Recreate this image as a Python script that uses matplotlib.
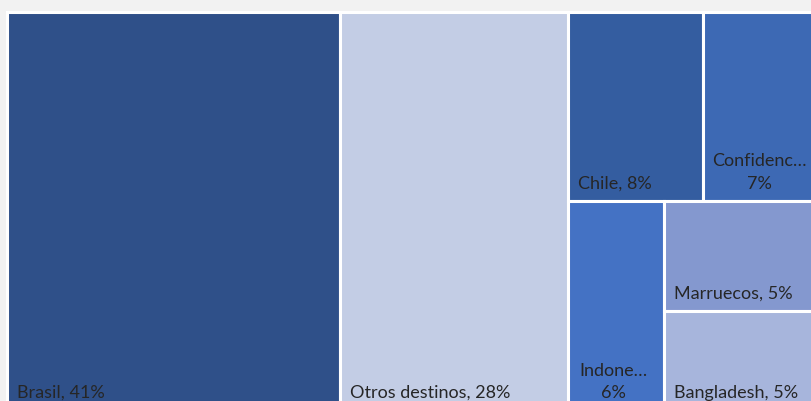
import matplotlib.pyplot as plt
from matplotlib.patches import Rectangle

# Treemap data (shares of exports, %)
names = ["Brasil", "Otros destinos", "Chile", "Confidencial", "Indonesia", "Marruecos", "Bangladesh"]
values = [41.0, 28.0, 7.9, 6.8, 6.2, 5.3, 4.8]
shown = ["Brasil", "Otros destinos", "Chile", "Confidenc…", "Indone…", "Marruecos", "Bangladesh"]
colors = ["#2F5089", "#C3CDE5", "#345DA0", "#3D69B4", "#4472C4", "#8498CF", "#A7B5DC"]

plt.rcParams['font.family'] = ['Lato', 'DejaVu Sans']

fig = plt.figure(figsize=(8.12, 4.01), dpi=100, facecolor="#F2F2F2")
ax = fig.add_axes([0, 0, 1, 1])
ax.set_facecolor("#F2F2F2")
ax.set_xlim(0, 812)
ax.set_ylim(401, 0)
ax.axis("off")

# treemap frame in pixel units (extends past the visible area)
X0, Y0, W, H = 7, 12, 813, 398
total = sum(values)


def area(idx):
    return sum(values[i] for i in idx)


rects = {}
# two full-height columns
x = X0
for i in (0, 1):
    w = W * values[i] / total
    rects[i] = (x, Y0, w, H)
    x += w
# remaining column
rx, rw = x, X0 + W - x
rest = area(range(2, 7))
top_h = H * area([2, 3]) / rest
xx = rx
for i in (2, 3):
    w = rw * values[i] / area([2, 3])
    rects[i] = (xx, Y0, w, top_h)
    xx += w
by, bh = Y0 + top_h, H - top_h
bottom = area([4, 5, 6])
w4 = rw * values[4] / bottom
rects[4] = (rx, by, w4, bh)
yy = by
for i in (5, 6):
    h = bh * values[i] / area([5, 6])
    rects[i] = (rx + w4, yy, rw - w4, h)
    yy += h

two_line = {3, 4}
for i in range(len(names)):
    x, y, w, h = rects[i]
    ax.add_patch(Rectangle((x, y), w, h, facecolor=colors[i], edgecolor="white", linewidth=2.2))
    pct = f"{round(values[i])}%"
    if i in two_line:
        ax.text(x + w / 2 - 2, y + h - 9, f"{shown[i]}\n{pct}", ha="center", va="bottom",
                fontsize=13, color="#262626", linespacing=1.5)
    else:
        ax.text(x + 10, y + h - 9, f"{shown[i]}, {pct}", ha="left", va="bottom",
                fontsize=13, color="#262626")

fig.savefig("out.png", dpi=100, facecolor=fig.get_facecolor())
